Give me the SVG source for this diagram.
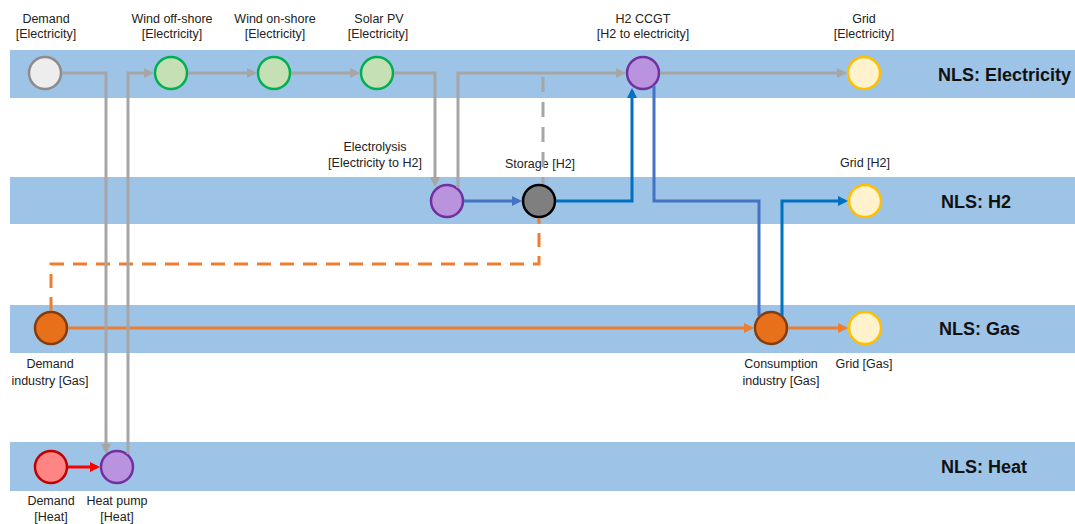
<svg xmlns="http://www.w3.org/2000/svg" width="1075" height="524" viewBox="0 0 1075 524">
<style>
.band{fill:#9DC3E6}
.bl{font-family:"Liberation Sans",Arial,sans-serif;font-size:18px;font-weight:bold;fill:#111}
.lb{font-family:"Liberation Sans",Arial,sans-serif;font-size:12.5px;fill:#222;text-anchor:middle}
.n{stroke-width:2.5}
.gray{fill:#EDEDED;stroke:#8C8C8C}
.green{fill:#C5E0B4;stroke:#00B050}
.purple{fill:#B993DD;stroke:#7030A0}
.grid{fill:#FFF2CC;stroke:#FFC000}
.orange{fill:#E9701B;stroke:#843C0C}
.dark{fill:#7F7F7F;stroke:#000}
.red{fill:#FF8585;stroke:#C00000}
.c{fill:none;stroke-width:3}
.cg{stroke:#A6A6A6}
.cba{stroke:#4472C4}
.cbb{stroke:#0070C0}
.co{stroke:#ED7D31}
.cr{stroke:#FF0000}
</style>
<defs>
<marker id="ag" viewBox="0 0 10 10" refX="7" refY="5" markerWidth="10" markerHeight="10" markerUnits="userSpaceOnUse" orient="auto"><path d="M0,0 L10,5 L0,10 z" fill="#A6A6A6"/></marker>
<marker id="aba" viewBox="0 0 10 10" refX="7" refY="5" markerWidth="10" markerHeight="10" markerUnits="userSpaceOnUse" orient="auto"><path d="M0,0 L10,5 L0,10 z" fill="#4472C4"/></marker>
<marker id="abb" viewBox="0 0 10 10" refX="7" refY="5" markerWidth="10" markerHeight="10" markerUnits="userSpaceOnUse" orient="auto"><path d="M0,0 L10,5 L0,10 z" fill="#0070C0"/></marker>
<marker id="ao" viewBox="0 0 10 10" refX="7" refY="5" markerWidth="10" markerHeight="10" markerUnits="userSpaceOnUse" orient="auto"><path d="M0,0 L10,5 L0,10 z" fill="#ED7D31"/></marker>
<marker id="ar" viewBox="0 0 10 10" refX="7" refY="5" markerWidth="10" markerHeight="10" markerUnits="userSpaceOnUse" orient="auto"><path d="M0,0 L10,5 L0,10 z" fill="#FF0000"/></marker>
</defs>
<rect width="1075" height="524" fill="#fff"/>
<g id="bands">
<rect class="band" x="10" y="50" width="1065" height="48"/>
<text class="bl" x="938" y="81">NLS: Electricity</text>
<rect class="band" x="10" y="177" width="1065" height="47"/>
<text class="bl" x="941" y="208">NLS: H2</text>
<rect class="band" x="10" y="305" width="1065" height="48"/>
<text class="bl" x="939" y="335">NLS: Gas</text>
<rect class="band" x="10" y="442" width="1065" height="49"/>
<text class="bl" x="941" y="473">NLS: Heat</text>
</g>
<g id="node-demand-elec"><circle class="n gray" cx="45" cy="73" r="16"/><text class="lb" x="46" y="23">Demand</text><text class="lb" x="46" y="38">[Electricity]</text></g>
<g id="node-wind-off"><circle class="n green" cx="171" cy="73" r="16"/><text class="lb" x="172" y="23">Wind off-shore</text><text class="lb" x="172" y="38">[Electricity]</text></g>
<g id="node-wind-on"><circle class="n green" cx="274" cy="73" r="16"/><text class="lb" x="275" y="23">Wind on-shore</text><text class="lb" x="275" y="38">[Electricity]</text></g>
<g id="node-solar"><circle class="n green" cx="377" cy="73" r="16"/><text class="lb" x="379" y="23">Solar PV</text><text class="lb" x="378" y="38">[Electricity]</text></g>
<g id="node-ccgt"><circle class="n purple" cx="643" cy="73" r="16"/><text class="lb" x="643" y="23">H2 CCGT</text><text class="lb" x="643" y="38">[H2 to electricity]</text></g>
<g id="node-grid-elec"><circle class="n grid" cx="864" cy="73" r="16"/><text class="lb" x="864" y="23">Grid</text><text class="lb" x="864" y="38">[Electricity]</text></g>
<g id="node-electrolysis"><circle class="n purple" cx="447" cy="201" r="16"/><text class="lb" x="375" y="151">Electrolysis</text><text class="lb" x="375" y="167">[Electricity to H2]</text></g>
<g id="node-storage"><circle class="n dark" cx="539" cy="201" r="16"/><text class="lb" x="540" y="168">Storage [H2]</text></g>
<g id="node-grid-h2"><circle class="n grid" cx="865" cy="201" r="16"/><text class="lb" x="865" y="167">Grid [H2]</text></g>
<g id="node-demand-ind"><circle class="n orange" cx="51" cy="328" r="16"/><text class="lb" x="50" y="368">Demand</text><text class="lb" x="50" y="385">industry [Gas]</text></g>
<g id="node-consumption"><circle class="n orange" cx="771" cy="328" r="16"/><text class="lb" x="781" y="368">Consumption</text><text class="lb" x="781" y="385">industry [Gas]</text></g>
<g id="node-grid-gas"><circle class="n grid" cx="865" cy="328" r="16"/><text class="lb" x="864" y="368">Grid [Gas]</text></g>
<g id="node-demand-heat"><circle class="n red" cx="51" cy="467" r="16"/><text class="lb" x="51" y="505">Demand</text><text class="lb" x="51" y="521">[Heat]</text></g>
<g id="node-heat-pump"><circle class="n purple" cx="117" cy="467" r="16"/><text class="lb" x="117" y="505">Heat pump</text><text class="lb" x="117" y="521">[Heat]</text></g>
<g id="connectors">
<path class="c co" d="M68,328 H751" marker-end="url(#ao)"/>
<path class="c co" d="M788,328 H845" marker-end="url(#ao)"/>
<path class="c co" d="M51,311 V264 H539 V218" stroke-dasharray="14 9"/>
<path class="c cr" d="M68,467 H97" marker-end="url(#ar)"/>
<path class="c cg" d="M62,73 H106 V451" marker-end="url(#ag)"/>
<path class="c cg" d="M128,454 V73 H151" marker-end="url(#ag)"/>
<path class="c cg" d="M188,73 H254" marker-end="url(#ag)"/>
<path class="c cg" d="M291,73 H357" marker-end="url(#ag)"/>
<path class="c cg" d="M394,73 H435 V184" marker-end="url(#ag)"/>
<path class="c cg" d="M458,188 V73 H623" marker-end="url(#ag)"/>
<path class="c cg" d="M543,77 V184" stroke-dasharray="15 10"/>
<path class="c cg" d="M660,73 H844" marker-end="url(#ag)"/>
<path class="c cba" d="M464,201 H519" marker-end="url(#aba)"/>
<path class="c cbb" d="M556,201 H632 V91" marker-end="url(#abb)"/>
<path class="c cba" d="M654,86 V201 H759 V316"/>
<path class="c cbb" d="M782,316 V201 H845" marker-end="url(#abb)"/>
</g>
</svg>
